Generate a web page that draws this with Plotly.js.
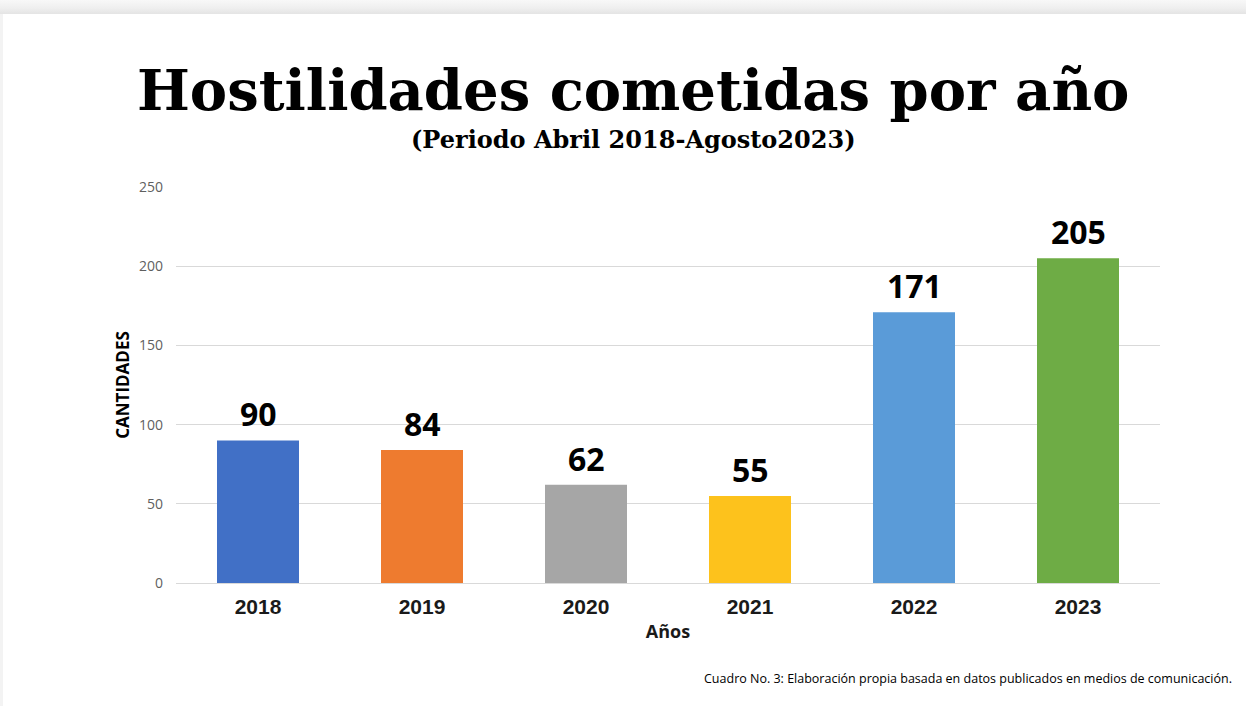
<!DOCTYPE html>
<html>
<head>
<meta charset="utf-8">
<script src="https://cdn.plot.ly/plotly-3.0.1.min.js"></script>
<style>
html,body{margin:0;padding:0;width:1246px;height:706px;overflow:hidden;}
body{background:linear-gradient(to bottom,#f8f8f8 0px,#efefef 8px,#e4e4e4 14px,#f3f3f3 14px);}
#chart{position:absolute;left:3px;top:14px;width:1243px;height:692px;background:#fff;}
</style>
</head>
<body>
<div id="chart"></div>
<script>
const years = ['2018','2019','2020','2021','2022','2023'];
const counts = [90, 84, 62, 55, 171, 205];
const barColors = ['#4170C6','#EE7B2F','#A6A6A6','#FDC21C','#5A9BD8','#6EAC45'];
const yTicks = [0, 50, 100, 150, 200, 250];

const titleText = 'Hostilidades cometidas por año';
const subtitleText = '(Periodo Abril 2018-Agosto2023)';
const xTitle = 'Años';
const yTitle = 'CANTIDADES';
const footnote = 'Cuadro No. 3: Elaboración propia basada en datos publicados en medios de comunicación.';

const trace = {
  type: 'bar',
  x: years,
  y: counts,
  marker: {color: barColors, line: {width: 0}},
  hoverinfo: 'x+y'
};

// category axis: annotation x given as category index
const valueLabels = years.map((yr, i) => ({
  x: i, y: counts[i], xref: 'x', yref: 'y',
  text: '<b>' + counts[i] + '</b>',
  showarrow: false, yanchor: 'bottom', yshift: 3,
  font: {family: 'Open Sans', size: 32, color: '#000'}
}));

const layout = {
  width: 1243, height: 692,
  margin: {l: 173, r: 86, t: 173, b: 123},
  paper_bgcolor: '#ffffff',
  plot_bgcolor: '#ffffff',
  bargap: 0.5,
  showlegend: false,
  title: {
    text: '<b>' + titleText + '</b>',
    font: {family: 'DejaVu Serif', size: 56, color: '#000'},
    xref: 'container', x: 0.507, xanchor: 'center',
    yref: 'container', y: 0.89, yanchor: 'middle'
  },
  xaxis: {
    type: 'category',
    range: [-0.5, years.length - 0.5],
    tickfont: {family: 'Liberation Sans', size: 21, color: '#1a1a1a', weight: 'bold'},
    ticklabelstandoff: 9,
    showgrid: false, zeroline: false, showline: false, ticks: '',
    title: {text: '<b>' + xTitle + '</b>', font: {family: 'Open Sans', size: 18, color: '#1a1a1a'}, standoff: 8}
  },
  yaxis: {
    range: [0, 250],
    tickvals: yTicks,
    tickfont: {family: 'Open Sans', size: 14, color: '#5f5f5f'},
    ticklabelstandoff: 12,
    showgrid: true, gridcolor: '#d9d9d9', gridwidth: 1,
    zeroline: true, zerolinecolor: '#d9d9d9', zerolinewidth: 1,
    showline: false, ticks: '',
    title: {text: '<b>' + yTitle + '</b>', font: {family: 'Open Sans', size: 17, color: '#000'}, standoff: 5}
  },
  annotations: valueLabels.concat([
    {
      text: '<b>' + subtitleText + '</b>',
      xref: 'paper', x: 0.4654, xanchor: 'center',
      yref: 'paper', y: 1.119, yanchor: 'middle',
      showarrow: false,
      font: {family: 'DejaVu Serif', size: 24, color: '#000'}
    },
    {
      text: footnote,
      xref: 'paper', x: 1.075, xanchor: 'right',
      yref: 'paper', y: -0.242, yanchor: 'middle',
      showarrow: false,
      font: {family: 'Open Sans', size: 12.5, color: '#000'}
    }
  ])
};

Plotly.newPlot('chart', [trace], layout, {displayModeBar: false, responsive: false});
</script>
</body>
</html>
